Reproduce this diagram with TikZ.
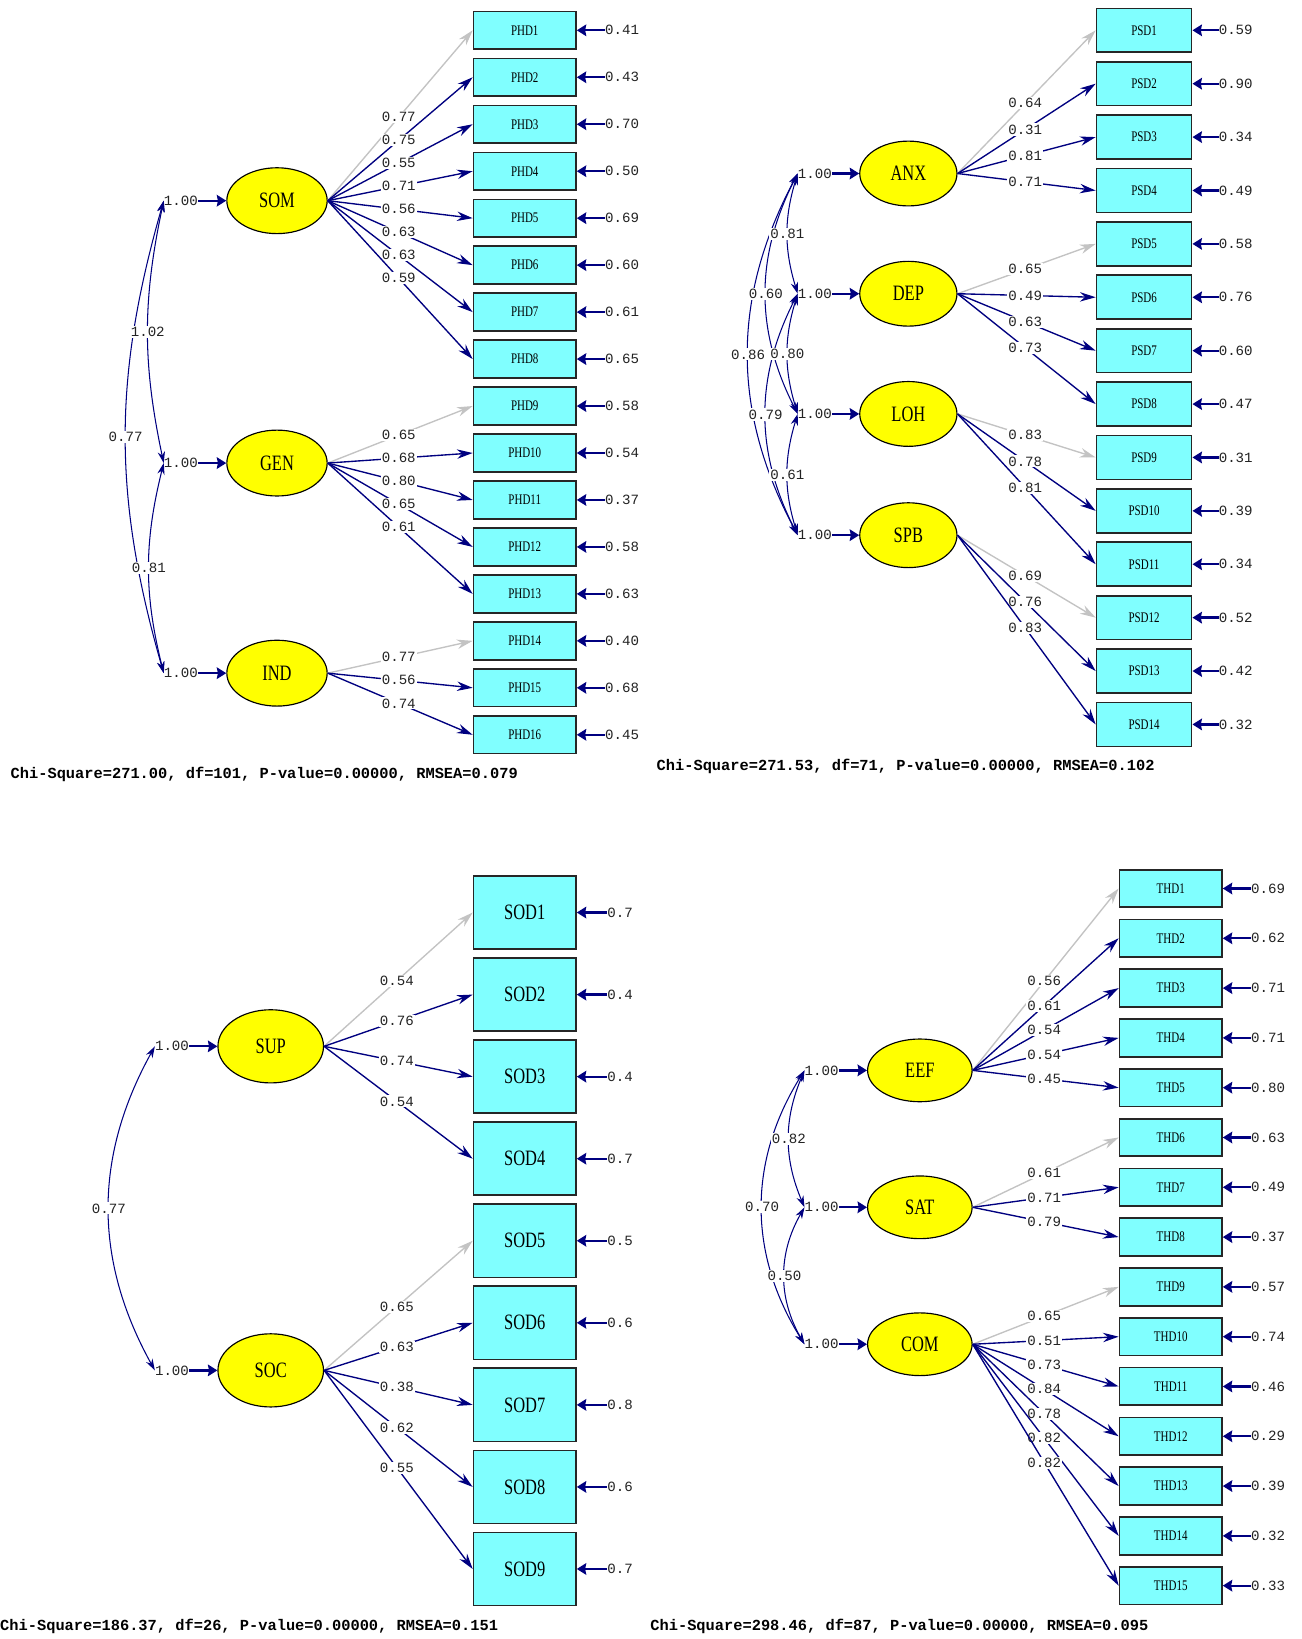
\documentclass[tikz,border=0pt]{standalone}
\usepackage{fontspec}
\setmainfont{Liberation Mono}
\newfontfamily\boxfont{Liberation Serif}[FakeStretch=0.75]
\usetikzlibrary{arrows.meta,shapes.geometric}

\definecolor{lnavy}{RGB}{0,0,128}
\definecolor{lgrey}{RGB}{195,195,195}
\definecolor{lcyan}{RGB}{128,255,255}
\definecolor{lyellow}{RGB}{255,255,0}
\definecolor{ltext}{RGB}{35,35,35}

\tikzset{
  obs/.style={draw=black!85, line width=1.6pt, fill=lcyan, inner sep=0pt, text=black,
    font=\boxfont\fontsize{14}{14}\selectfont},
  obsphd/.style={obs, minimum width=98pt, minimum height=36pt},
  obspsd/.style={obs, minimum width=91pt, minimum height=42pt},
  obssod/.style={obs, minimum width=98pt, minimum height=70pt, font=\boxfont\fontsize{21}{21}\selectfont},
  lat/.style={ellipse, draw=black, line width=1.1pt, fill=lyellow, inner sep=0pt, text=black,
    font=\boxfont\fontsize{21}{21}\selectfont},
  coef/.style={fill=white, inner sep=1.2pt, text=ltext, font=\fontsize{13.5}{13.5}\selectfont},
  loadlab/.style={coef, pos=.49},
  errlab/.style={coef, fill=none, inner sep=0pt, anchor=west},
  varlab/.style={coef, fill=none, inner sep=0pt, anchor=east},
  load/.style={lnavy, line width=1.3pt, -{Stealth[length=15pt,width=9pt]}},
  fixload/.style={load, lgrey},
  errarrow/.style={lnavy, line width=2.2pt, -{Stealth[length=9pt,width=11pt,inset=1pt]}},
  corr/.style={lnavy, line width=1pt, {Stealth[length=11pt,width=7pt]}-{Stealth[length=11pt,width=7pt]}},
  stat/.style={anchor=west, inner sep=0pt, text=black, font=\bfseries\fontsize{14.7}{14.7}\selectfont}
}

\begin{document}
\begin{tikzpicture}[x=1pt,y=1pt]
	\useasboundingbox (0,0) rectangle (1245,-1568);
	\fill[white] (0,0) rectangle (1245,-1568);

	% ---------- top left: PHD ----------
	\foreach \i/\e in {1/0.41,2/0.43,3/0.70,4/0.50,5/0.69,6/0.60,7/0.61,8/0.65,
	                   9/0.58,10/0.54,11/0.37,12/0.58,13/0.63,14/0.40,15/0.68,16/0.45} {
		\node[obsphd] (phd\i) at (502,{-29-44.93*(\i-1)}) {PHD\i};
		\node[errlab] (ephd\i) at ([xshift=27pt]phd\i.east) {\e};
		\draw[errarrow] (ephd\i.west) -- (phd\i.east);
	}
	\node[lat, minimum width=96pt, minimum height=63pt] (som) at (265,-192) {SOM};
	\node[lat, minimum width=96pt, minimum height=63pt] (gen) at (265,-443) {GEN};
	\node[lat, minimum width=96pt, minimum height=63pt] (ind) at (265,-644) {IND};
	\foreach \f in {som,gen,ind} {
		\node[varlab] (v\f) at ([xshift=-27pt]\f.west) {1.00};
		\draw[errarrow] (v\f.east) -- (\f.west);
	}
	% loadings
	\draw[fixload] (som.east) -- node[loadlab] {0.77} (phd1.west);
	\foreach \i/\c in {2/0.75,3/0.55,4/0.71,5/0.56,6/0.63,7/0.63,8/0.59}
		\draw[load] (som.east) -- node[loadlab] {\c} (phd\i.west);
	\draw[fixload] (gen.east) -- node[loadlab] {0.65} (phd9.west);
	\foreach \i/\c in {10/0.68,11/0.80,12/0.65,13/0.61}
		\draw[load] (gen.east) -- node[loadlab] {\c} (phd\i.west);
	\draw[fixload] (ind.east) -- node[loadlab] {0.77} (phd14.west);
	\foreach \i/\c in {15/0.56,16/0.74}
		\draw[load] (ind.east) -- node[loadlab] {\c} (phd\i.west);
	% correlations
	\draw[corr] (vsom.west) to[bend right=16] node[coef] {0.77} (vind.west);
	\draw[corr] (vsom.west) to[bend right=12] node[coef] {1.02} (vgen.west);
	\draw[corr] (vgen.west) to[bend right=14] node[coef] {0.81} (vind.west);
	\node[stat] (stat1) at (10,-741) {Chi-Square=271.00, df=101, P-value=0.00000, RMSEA=0.079};

	% ---------- top right: PSD ----------
	\foreach \i/\e in {1/0.59,2/0.90,3/0.34,4/0.49,5/0.58,6/0.76,7/0.60,
	                   8/0.47,9/0.31,10/0.39,11/0.34,12/0.52,13/0.42,14/0.32} {
		\node[obspsd] (psd\i) at (1094.5,{-29-51.08*(\i-1)}) {PSD\i};
		\node[errlab] (epsd\i) at ([xshift=25pt]psd\i.east) {\e};
		\draw[errarrow] (epsd\i.west) -- (psd\i.east);
	}
	\node[lat, minimum width=93pt, minimum height=62pt] (anx) at (869,-166) {ANX};
	\node[lat, minimum width=93pt, minimum height=62pt] (dep) at (869,-281) {DEP};
	\node[lat, minimum width=93pt, minimum height=62pt] (loh) at (869,-396) {LOH};
	\node[lat, minimum width=93pt, minimum height=62pt] (spb) at (869,-512) {SPB};
	\foreach \f in {anx,dep,loh,spb} {
		\node[varlab] (v\f) at ([xshift=-26pt]\f.west) {1.00};
		\draw[errarrow] (v\f.east) -- (\f.west);
	}
	\draw[fixload] (anx.east) -- node[loadlab] {0.64} (psd1.west);
	\foreach \i/\c in {2/0.31,3/0.81,4/0.71}
		\draw[load] (anx.east) -- node[loadlab] {\c} (psd\i.west);
	\draw[fixload] (dep.east) -- node[loadlab] {0.65} (psd5.west);
	\foreach \i/\c in {6/0.49,7/0.63,8/0.73}
		\draw[load] (dep.east) -- node[loadlab] {\c} (psd\i.west);
	\draw[fixload] (loh.east) -- node[loadlab] {0.83} (psd9.west);
	\foreach \i/\c in {10/0.78,11/0.81}
		\draw[load] (loh.east) -- node[loadlab] {\c} (psd\i.west);
	\draw[fixload] (spb.east) -- node[loadlab] {0.69} (psd12.west);
	\foreach \i/\c in {13/0.76,14/0.83}
		\draw[load] (spb.east) -- node[loadlab] {\c} (psd\i.west);
	\draw[corr] (vanx.west) to[bend right=28] node[coef] {0.86} (vspb.west);
	\draw[corr] (vanx.west) to[bend right=27] node[coef] {0.60} (vloh.west);
	\draw[corr] (vdep.west) to[bend right=27] node[coef] {0.79} (vspb.west);
	\draw[corr] (vanx.west) to[bend right=17] node[coef] {0.81} (vdep.west);
	\draw[corr] (vdep.west) to[bend right=17] node[coef] {0.80} (vloh.west);
	\draw[corr] (vloh.west) to[bend right=17] node[coef] {0.61} (vspb.west);
	\node[stat] (stat2) at (628,-733) {Chi-Square=271.53, df=71, P-value=0.00000, RMSEA=0.102};

	% ---------- bottom left: SOD ----------
	\foreach \i/\e in {1/0.7,2/0.4,3/0.4,4/0.7,5/0.5,6/0.6,7/0.8,8/0.6,9/0.7} {
		\node[obssod] (sod\i) at (502,{-873-78.5*(\i-1)}) {SOD\i};
		\node[errlab] (esod\i) at ([xshift=29pt]sod\i.east) {\e};
		\draw[errarrow] (esod\i.west) -- (sod\i.east);
	}
	\node[lat, minimum width=101pt, minimum height=70pt] (sup) at (259,-1001) {SUP};
	\node[lat, minimum width=101pt, minimum height=70pt] (soc) at (259,-1311) {SOC};
	\foreach \f in {sup,soc} {
		\node[varlab] (v\f) at ([xshift=-27pt]\f.west) {1.00};
		\draw[errarrow] (v\f.east) -- (\f.west);
	}
	\draw[fixload] (sup.east) -- node[loadlab] {0.54} (sod1.west);
	\foreach \i/\c in {2/0.76,3/0.74,4/0.54}
		\draw[load] (sup.east) -- node[loadlab] {\c} (sod\i.west);
	\draw[fixload] (soc.east) -- node[loadlab] {0.65} (sod5.west);
	\foreach \i/\c in {6/0.63,7/0.38,8/0.62,9/0.55}
		\draw[load] (soc.east) -- node[loadlab] {\c} (sod\i.west);
	\draw[corr] (vsup.west) to[bend right=29] node[coef] {0.77} (vsoc.west);
	\node[stat] (stat3) at (0,-1556) {Chi-Square=186.37, df=26, P-value=0.00000, RMSEA=0.151};

	% ---------- bottom right: THD ----------
	\foreach \i/\e in {1/0.69,2/0.62,3/0.71,4/0.71,5/0.80,6/0.63,7/0.49,8/0.37,
	                   9/0.57,10/0.74,11/0.46,12/0.29,13/0.39,14/0.32,15/0.33} {
		\node[obsphd] (thd\i) at (1120,{-850-47.64*(\i-1)}) {THD\i};
		\node[errlab] (ethd\i) at ([xshift=27pt]thd\i.east) {\e};
		\draw[errarrow] (ethd\i.west) -- (thd\i.east);
	}
	\node[lat, minimum width=100pt, minimum height=60pt] (eef) at (880,-1024) {EEF};
	\node[lat, minimum width=100pt, minimum height=60pt] (sat) at (880,-1155) {SAT};
	\node[lat, minimum width=100pt, minimum height=60pt] (com) at (880,-1286) {COM};
	\foreach \f in {eef,sat,com} {
		\node[varlab] (v\f) at ([xshift=-27pt]\f.west) {1.00};
		\draw[errarrow] (v\f.east) -- (\f.west);
	}
	\draw[fixload] (eef.east) -- node[loadlab] {0.56} (thd1.west);
	\foreach \i/\c in {2/0.61,3/0.54,4/0.54,5/0.45}
		\draw[load] (eef.east) -- node[loadlab] {\c} (thd\i.west);
	\draw[fixload] (sat.east) -- node[loadlab] {0.61} (thd6.west);
	\foreach \i/\c in {7/0.71,8/0.79}
		\draw[load] (sat.east) -- node[loadlab] {\c} (thd\i.west);
	\draw[fixload] (com.east) -- node[loadlab] {0.65} (thd9.west);
	\foreach \i/\c in {10/0.51,11/0.73,12/0.84,13/0.78,14/0.82,15/0.82}
		\draw[load] (com.east) -- node[loadlab] {\c} (thd\i.west);
	\draw[corr] (veef.west) to[bend right=32] node[coef] {0.70} (vcom.west);
	\draw[corr] (veef.west) to[bend right=23] node[coef] {0.82} (vsat.west);
	\draw[corr] (vsat.west) to[bend right=30] node[coef] {0.50} (vcom.west);
	\node[stat] (stat4) at (622,-1556) {Chi-Square=298.46, df=87, P-value=0.00000, RMSEA=0.095};
\end{tikzpicture}
\end{document}
